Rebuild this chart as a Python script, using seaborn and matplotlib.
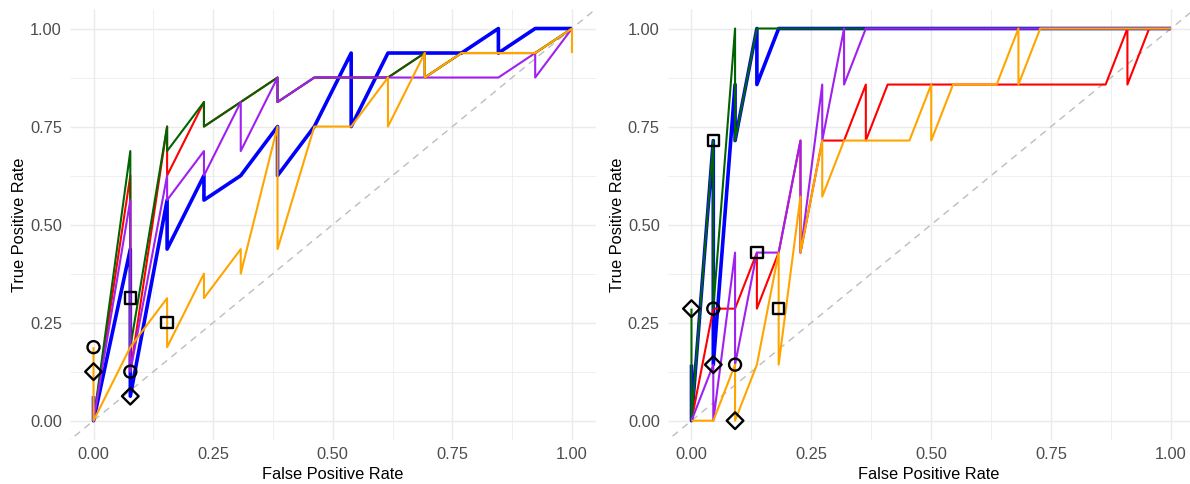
import numpy as np
import pandas as pd
import matplotlib
matplotlib.use("Agg")
import matplotlib.pyplot as plt
import seaborn as sns

# ---------------- data ----------------
models = ["Model A", "Model B", "Model C", "Model D", "Model E"]
model_colors = ["#0000FF", "#FF0000", "#006400", "#A020F0", "#FFA500"]

# Left panel (FPR step 1/13, TPR step 1/16)
L_fpr_A = [0, 0, 0.0769, 0.0769, 0.1538, 0.1538, 0.2308, 0.2308, 0.3077, 0.3846, 0.3846, 0.4615, 0.5385, 0.5385, 0.6154, 0.7692, 0.8462, 0.8462, 0.9231, 1]
L_tpr_A = [0.0625, 0, 0.4375, 0.0625, 0.5625, 0.4375, 0.625, 0.5625, 0.625, 0.75, 0.625, 0.75, 0.9375, 0.75, 0.9375, 0.9375, 1, 0.9375, 1, 1]
L_fpr_B = [0, 0.0769, 0.0769, 0.1538, 0.1538, 0.2308, 0.2308, 0.3077, 0.3846, 0.3846, 0.4615, 0.6154, 0.6923, 0.6923, 0.7692, 0.9231, 1]
L_tpr_B = [0, 0.625, 0.125, 0.75, 0.625, 0.8125, 0.75, 0.8125, 0.875, 0.8125, 0.875, 0.875, 0.9375, 0.875, 0.9375, 0.9375, 1]
L_fpr_C = [0, 0.0769, 0.0769, 0.1538, 0.1538, 0.2308, 0.2308, 0.3077, 0.3846, 0.3846, 0.4615, 0.6154, 0.6923, 0.6923, 0.7692, 0.9231, 1]
L_tpr_C = [0, 0.6875, 0.1875, 0.75, 0.6875, 0.8125, 0.75, 0.8125, 0.875, 0.8125, 0.875, 0.875, 0.9375, 0.875, 0.9375, 0.9375, 1]
L_fpr_D = [0, 0, 0.0769, 0.0769, 0.1538, 0.1538, 0.2308, 0.2308, 0.3077, 0.3077, 0.3846, 0.3846, 0.4615, 0.8462, 0.9231, 0.9231, 1]
L_tpr_D = [0.0625, 0, 0.5625, 0.125, 0.625, 0.5625, 0.6875, 0.625, 0.8125, 0.6875, 0.875, 0.8125, 0.875, 0.875, 0.9375, 0.875, 1]
L_fpr_E = [0, 0, 0.0769, 0.1538, 0.1538, 0.2308, 0.2308, 0.3077, 0.3077, 0.3846, 0.3846, 0.4615, 0.5385, 0.6154, 0.6154, 0.6923, 0.6923, 0.7692, 0.9231, 1, 1]
L_tpr_E = [0.1875, 0, 0.1875, 0.3125, 0.1875, 0.375, 0.3125, 0.4375, 0.375, 0.75, 0.4375, 0.75, 0.75, 0.875, 0.75, 0.9375, 0.875, 0.9375, 0.9375, 1, 0.9375]

# Right panel (FPR step 1/22, TPR step 1/7)
R_fpr_A = [0, 0, 0.0455, 0.0455, 0.0909, 0.0909, 0.1364, 0.1364, 0.1818, 1]
R_tpr_A = [0.1429, 0, 0.7143, 0.1429, 0.8571, 0.7143, 1, 0.8571, 1, 1]
R_fpr_B = [0, 0.0455, 0.0909, 0.1364, 0.1364, 0.1818, 0.2273, 0.2273, 0.2727, 0.3182, 0.3636, 0.3636, 0.4091, 0.8636, 0.9091, 0.9091, 0.9545, 1]
R_tpr_B = [0, 0.2857, 0.2857, 0.4286, 0.2857, 0.4286, 0.7143, 0.4286, 0.7143, 0.7143, 0.8571, 0.7143, 0.8571, 0.8571, 1, 0.8571, 1, 1]
R_fpr_C = [0, 0, 0.0455, 0.0455, 0.0909, 0.0909, 0.1364, 1]
R_tpr_C = [0.2857, 0, 0.7143, 0.2857, 1, 0.7143, 1, 1]
R_fpr_D = [0, 0.0455, 0.0455, 0.0909, 0.0909, 0.1364, 0.1818, 0.2273, 0.2273, 0.2727, 0.2727, 0.3182, 0.3182, 0.3636, 1]
R_tpr_D = [0, 0.1429, 0, 0.4286, 0.1429, 0.4286, 0.4286, 0.7143, 0.4286, 0.8571, 0.7143, 1, 0.8571, 1, 1]
R_fpr_E = [0, 0.0455, 0.0909, 0.0909, 0.1364, 0.1818, 0.1818, 0.2273, 0.2273, 0.2727, 0.2727, 0.3182, 0.4545, 0.5, 0.5, 0.5455, 0.6364, 0.6818, 0.6818, 0.7273, 1]
R_tpr_E = [0, 0, 0.1429, 0, 0.1429, 0.4286, 0.1429, 0.5714, 0.4286, 0.7143, 0.5714, 0.7143, 0.7143, 0.8571, 0.7143, 0.8571, 0.8571, 1, 0.8571, 1, 1]

# Threshold markers
L_circle_fpr = [0, 0.0769]
L_circle_tpr = [0.1875, 0.125]
L_square_fpr = [0.0769, 0.1538]
L_square_tpr = [0.3125, 0.25]
L_diamond_fpr = [0, 0.0769]
L_diamond_tpr = [0.125, 0.0625]

R_circle_fpr = [0.0455, 0.0909]
R_circle_tpr = [0.2857, 0.1429]
R_square_fpr = [0.0455, 0.1364, 0.1818]
R_square_tpr = [0.7143, 0.4286, 0.2857]
R_diamond_fpr = [0, 0.0455, 0.0909]
R_diamond_tpr = [0.2857, 0.1429, 0]

tick_vals = [0.0, 0.25, 0.5, 0.75, 1.0]
tick_labels = ["0.00", "0.25", "0.50", "0.75", "1.00"]

# ---------------- build tables ----------------
def curves_df(fprs, tprs):
    rows = []
    for m, f, t in zip(models, fprs, tprs):
        for i, (x, y) in enumerate(zip(f, t)):
            rows.append({"model": m, "idx": i, "fpr": x, "tpr": y})
    return pd.DataFrame(rows)

left_df = curves_df([L_fpr_A, L_fpr_B, L_fpr_C, L_fpr_D, L_fpr_E],
                    [L_tpr_A, L_tpr_B, L_tpr_C, L_tpr_D, L_tpr_E])
right_df = curves_df([R_fpr_A, R_fpr_B, R_fpr_C, R_fpr_D, R_fpr_E],
                     [R_tpr_A, R_tpr_B, R_tpr_C, R_tpr_D, R_tpr_E])

def marker_df(cf, ct, sf, st, df_, dt):
    rows = []
    for kind, xs, ys in (("circle", cf, ct), ("square", sf, st), ("diamond", df_, dt)):
        for x, y in zip(xs, ys):
            rows.append({"kind": kind, "fpr": x, "tpr": y})
    return pd.DataFrame(rows)

left_mk = marker_df(L_circle_fpr, L_circle_tpr, L_square_fpr, L_square_tpr, L_diamond_fpr, L_diamond_tpr)
right_mk = marker_df(R_circle_fpr, R_circle_tpr, R_square_fpr, R_square_tpr, R_diamond_fpr, R_diamond_tpr)

# ---------------- style ----------------
sns.set_theme(style="white")
plt.rcParams["font.family"] = ["Liberation Sans", "DejaVu Sans"]
plt.rcParams["lines.solid_joinstyle"] = "round"
plt.rcParams["lines.solid_capstyle"] = "butt"

W, H = 1190, 484
fig = plt.figure(figsize=(W / 100, H / 100), dpi=100)
fig.patch.set_facecolor("white")

ax_L = fig.add_axes([69.6 / W, (H - 440.3) / H, (595.9 - 69.6) / W, (440.3 - 8.9) / H])
ax_R = fig.add_axes([667.5 / W, (H - 440.3) / H, (1190 - 667.5) / W, (440.3 - 8.9) / H])

palette = dict(zip(models, model_colors))
sizes = {"Model A": 2.6, "Model B": 1.5, "Model C": 1.5, "Model D": 1.5, "Model E": 1.5}
marker_map = {"circle": "o", "square": "s", "diamond": "D"}
marker_size = {"circle": 75, "square": 68, "diamond": 72}

for ax, cdf, mdf, xmax in ((ax_L, left_df, left_mk, 1.05), (ax_R, right_df, right_mk, 1.0396)):
    ax.set_facecolor("white")
    ax.set_xlim(-0.05, xmax)
    ax.set_ylim(-0.05, 1.05)
    # grid
    for v in [0.125, 0.375, 0.625, 0.875]:
        ax.axvline(v, color="#EBEBEB", lw=0.55, zorder=0)
        ax.axhline(v, color="#EBEBEB", lw=0.55, zorder=0)
    for v in tick_vals:
        ax.axvline(v, color="#EBEBEB", lw=1.05, zorder=0)
        ax.axhline(v, color="#EBEBEB", lw=1.05, zorder=0)
    # diagonal
    ax.plot([-0.1, 1.1], [-0.1, 1.1], color="#BDBDBD", lw=1.0, ls=(0, (5, 4)), zorder=1)
    # curves
    sns.lineplot(data=cdf, x="fpr", y="tpr", hue="model", hue_order=models,
                 palette=palette, size="model", sizes=sizes, size_order=models,
                 units="model", estimator=None, sort=False, legend=False, ax=ax, zorder=2)
    # markers
    for kind in ("circle", "square", "diamond"):
        sub = mdf[mdf["kind"] == kind]
        if len(sub) == 0:
            continue
        sns.scatterplot(data=sub, x="fpr", y="tpr", marker=marker_map[kind],
                        s=marker_size[kind], ax=ax, legend=False, zorder=4)
        coll = ax.collections[-1]
        coll.set_facecolor("none")
        coll.set_edgecolor("black")
        coll.set_linewidth(1.7)
    ax.set_xticks(tick_vals)
    ax.set_xticklabels(tick_labels)
    ax.set_yticks(tick_vals)
    ax.set_yticklabels(tick_labels)
    ax.tick_params(axis="both", length=0, labelsize=11.8, labelcolor="#4D4D4D")
    ax.tick_params(axis="x", pad=4.5)
    ax.tick_params(axis="y", pad=5.5)
    for s in ax.spines.values():
        s.set_visible(False)
    ax.set_xlabel("False Positive Rate", fontsize=11.8, color="black", labelpad=4)
    ax.set_ylabel("True Positive Rate", fontsize=11.8, color="black", labelpad=2)
    ax.grid(False)

fig.savefig("out.png", dpi=100, facecolor="white")
